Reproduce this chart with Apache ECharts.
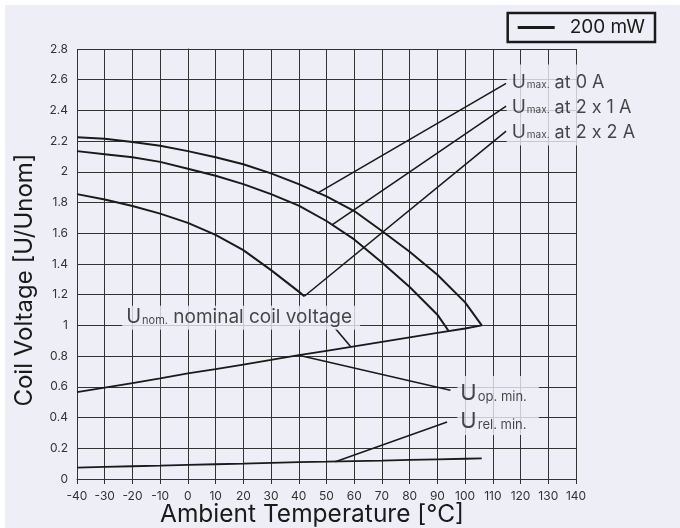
<!DOCTYPE html>
<html><head><meta charset="utf-8">
<script src="https://cdn.jsdelivr.net/npm/echarts@6/dist/echarts.min.js"></script>
<style>
html,body{margin:0;padding:0;background:#fff;width:680px;height:528px;overflow:hidden}
#c{position:absolute;left:5px;top:5px;width:675px;height:523px;background:#EEEEF6}
</style>
</head><body><div id="c"></div>
<script>
const FONT = 'Inter';
const INK = '#1a1a1a';
const BG = '#EEEEF6';

// ---- data (temperature in °C, voltage ratio U/Unom) ----
const tempsFull = [-40,-30,-20,-10,0,10,20,30,40,50,60,70,80,90,100,106];
const umax0A = [2.225,2.215,2.195,2.17,2.135,2.095,2.05,1.99,1.92,1.84,1.745,1.615,1.48,1.33,1.15,1.0];
const temps2x1 = [-40,-30,-20,-10,0,10,20,30,40,50,60,70,80,90,94];
const umax2x1A = [2.135,2.115,2.095,2.065,2.02,1.975,1.92,1.855,1.78,1.68,1.56,1.41,1.25,1.07,0.965];
const temps2x2 = [-40,-30,-20,-10,0,10,20,30,40,42];
const umax2x2A = [1.855,1.82,1.778,1.728,1.668,1.59,1.49,1.36,1.22,1.19];
const unom = [0.565,0.595,0.625,0.655,0.688,0.715,0.745,0.775,0.806,0.835,0.864,0.893,0.922,0.951,0.98,1.0];
const urelmin = [0.074,0.079,0.083,0.087,0.092,0.096,0.1,0.105,0.11,0.113,0.117,0.12,0.124,0.128,0.132,0.134];

// leader lines [temp, value] pairs
const leader0A = [[46.6,1.86],[114.8,2.576]];
const leader2x1A = [[52,1.655],[114.8,2.428]];
const leader2x2A = [[42,1.19],[114.8,2.265]];
const leaderNom = [[53.2,0.98],[58.6,0.864]];
const leaderOp = [[40,0.806],[94.7,0.578]];
const leaderRel = [[53.2,0.113],[93.5,0.371]];

// annotation anchors (left-middle of each text box)
const anchorUmax = [115, 2.435];
const anchorNom = [-23.7, 1.05];
const anchorOpRel = [97.2, 0.478];

const xMin = -40, xMax = 140, xStep = 10;
const yMin = 0, yMax = 2.8, yStep = 0.2;

const pairs = (xs, ys) => xs.map((x, i) => [x, ys[i]]);

const curve = (name, data, w) => ({
  name, type: 'line', data, showSymbol: false, symbol: 'none',
  smooth: false, silent: true,
  color: INK, lineStyle: { color: INK, width: w || 2 }, z: 3
});
const leader = (data) => ({
  type: 'line', data, showSymbol: false, symbol: 'none', silent: true,
  lineStyle: { color: INK, width: 1.6 }, z: 3
});

const tok = (size, lh, extra) => Object.assign({ fontFamily: FONT, fontSize: size, lineHeight: lh, color: INK, verticalAlign: 'middle' }, extra || {});

const annot = (pos, formatter, rich, padding) => ({
  value: pos,
  label: {
    show: true, position: 'right', distance: 0, formatter,
    backgroundColor: BG, padding, rich
  }
});

const chart = echarts.init(document.getElementById('c'), null, { renderer: 'canvas' });
chart.setOption({
  animation: false,
  backgroundColor: BG,
  grid: { left: 72, top: 44, width: 499, height: 430, containLabel: false },
  legend: {
    data: [{ name: '200 mW', icon: 'rect' }],
    right: 25, top: 8,
    itemWidth: 37, itemHeight: 3,
    padding: [5, 10, 5, 10],
    borderColor: INK, borderWidth: 2.5, borderRadius: 0,
    backgroundColor: BG,
    textStyle: { fontFamily: FONT, fontSize: 19, color: INK, padding: [0, 0, 0, 10] },
    selectedMode: false
  },
  xAxis: {
    type: 'value', min: xMin, max: xMax, interval: xStep,
    axisLine: { show: true, lineStyle: { color: '#333', width: 1 } },
    axisTick: { show: true, length: 5, lineStyle: { color: '#333' } },
    axisLabel: { margin: 11, fontFamily: FONT, fontSize: 12, color: '#333' },
    splitLine: { show: true, lineStyle: { color: '#333', width: 1 } }
  },
  yAxis: {
    type: 'value', min: yMin, max: yMax, interval: yStep,
    axisLine: { show: true, lineStyle: { color: '#333', width: 1 } },
    axisTick: { show: true, length: 4, lineStyle: { color: '#333' } },
    axisLabel: { margin: 9, fontFamily: FONT, fontSize: 12, color: '#333',
      formatter: v => String(Math.round(v * 10) / 10) },
    splitLine: { show: true, lineStyle: { color: '#333', width: 1 } }
  },
  graphic: [
    { type: 'text', x: 307, y: 510, style: { text: 'Ambient Temperature [°C]', fontFamily: FONT, fontSize: 24.5, fill: INK, align: 'center', verticalAlign: 'middle' } },
    { type: 'text', x: 20, y: 275, rotation: Math.PI / 2, style: { text: 'Coil Voltage [U/Unom]', fontFamily: FONT, fontSize: 24, fill: INK, align: 'center', verticalAlign: 'middle' } }
  ],
  series: [
    curve('200 mW', pairs(tempsFull, umax0A)),
    curve('Umax 2x1A', pairs(temps2x1, umax2x1A)),
    curve('Umax 2x2A', pairs(temps2x2, umax2x2A)),
    curve('Unom', pairs(tempsFull, unom), 1.8),
    curve('Urel min', pairs(tempsFull, urelmin), 1.8),
    leader(leader0A), leader(leader2x1A), leader(leader2x2A),
    leader(leaderNom), leader(leaderOp), leader(leaderRel),
    {
      type: 'scatter', symbolSize: 0, silent: true, z: 10,
      data: [
        annot(anchorUmax,
          '{U|U}{s|max.}{t| at 0 A}\n{U|U}{s|max.}{t| at 2 x 1 A}\n{U|U}{s|max.}{t| at 2 x 2 A}',
          { U: tok(19, 25), s: tok(10, 25, { padding: [6, 0, 0, 1] }), t: tok(18, 25, { padding: [1, 0, 0, 0] }) },
          [5, 8, 1, 5]),
        annot(anchorNom,
          '{U|U}{s|nom.}{t| nominal coil voltage}',
          { U: tok(20, 21), s: tok(11, 21, { padding: [6, 0, 0, 1] }), t: tok(19, 21, { padding: [1, 0, 0, 0] }) },
          [1, 8, 2, 4]),
        annot(anchorOpRel,
          '{U|U}{s|op. min.}\n{U|U}{s|rel. min.}',
          { U: tok(22, 28), s: tok(13, 28, { padding: [8, 0, 0, 1] }) },
          [3, 12, 0, 3])
      ]
    }
  ]
});
</script>
</body></html>
